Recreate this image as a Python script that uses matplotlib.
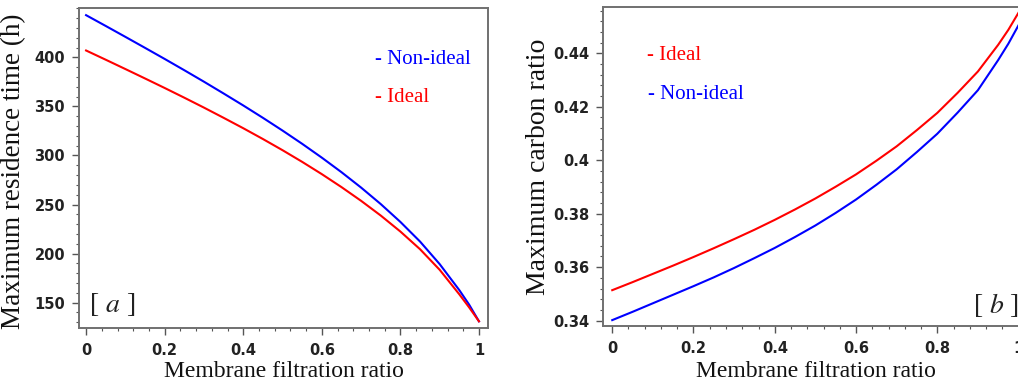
import matplotlib
matplotlib.use("Agg")
import matplotlib.pyplot as plt
from matplotlib.ticker import AutoMinorLocator

plt.rcParams['mathtext.fontset'] = 'stix'

# ---- data ----
ratio = [0.0, 0.05, 0.1, 0.15, 0.2, 0.25, 0.3, 0.35, 0.4, 0.45, 0.5, 0.55,
         0.6, 0.65, 0.7, 0.75, 0.8, 0.85, 0.9, 0.95, 0.975, 1.0]
residence_nonideal = [443, 432, 420.9, 409.7, 398.4, 386.9, 375.2, 363.2, 351, 338.4, 325.4,
                      311.9, 297.8, 283, 267.3, 250.5, 232.3, 212.3, 189.3, 162.8, 148, 131]
residence_ideal = [407, 397.6, 388.1, 378.5, 368.8, 358.9, 348.8, 338.4, 327.8, 316.8, 305.4,
                   293.5, 281, 267.8, 253.8, 238.8, 222.5, 204.5, 183.5, 158.5, 145.2, 131]

carbon_ideal = [0.3514, 0.3544, 0.3575, 0.3606, 0.3638, 0.3671, 0.3705, 0.3740, 0.3777,
                0.3816, 0.3857, 0.3901, 0.3947, 0.3998, 0.4052, 0.4113, 0.4177, 0.4252,
                0.4332, 0.4432, 0.4488, 0.4552]
carbon_nonideal = [0.3402, 0.3433, 0.3465, 0.3497, 0.3529, 0.3562, 0.3597, 0.3634, 0.3672,
                   0.3713, 0.3756, 0.3803, 0.3853, 0.3908, 0.3966, 0.4031, 0.4099, 0.4178,
                   0.4262, 0.4375, 0.4436, 0.4505]

xticks = [0, 0.2, 0.4, 0.6, 0.8, 1]
xticklabels = ['0', '0.2', '0.4', '0.6', '0.8', '1']
left_yticks = [150, 200, 250, 300, 350, 400]
right_yticks = [0.34, 0.36, 0.38, 0.40, 0.42, 0.44]
right_yticklabels = ['0.34', '0.36', '0.38', '0.4', '0.42', '0.44']

RED = '#ff0000'
BLUE = '#0000ff'
SERIF = 'Liberation Serif'

W, H = 1018, 385
fig = plt.figure(figsize=(W / 100, H / 100), dpi=100)

def frac_box(x0, x1, ytop, ybot):
    return [x0 / W, (H - ybot) / H, (x1 - x0) / W, (ybot - ytop) / H]

axL = fig.add_axes(frac_box(79, 488, 8, 328))
axR = fig.add_axes(frac_box(603.3, 1028.7, 7.3, 326))

def style(ax):
    for s in ax.spines.values():
        s.set_color('#707070')
        s.set_linewidth(1.4)
    ax.tick_params(axis='both', which='major', direction='out', length=5, width=1,
                   color='#555555', labelsize=10.5)
    ax.tick_params(axis='y', which='major', pad=5)
    ax.tick_params(axis='x', which='major', pad=6)
    ax.tick_params(axis='both', which='minor', direction='out', length=2.5, width=0.8,
                   color='#555555')
    for lab in ax.get_xticklabels() + ax.get_yticklabels():
        lab.set_fontweight('bold')
        lab.set_color('#222222')
    ax.xaxis.set_minor_locator(AutoMinorLocator(5))
    ax.yaxis.set_minor_locator(AutoMinorLocator(5))

# ---- left panel ----
axL.plot(ratio, residence_nonideal, color=BLUE, lw=1.5)
axL.plot(ratio, residence_ideal, color=RED, lw=1.5)
axL.set_xlim(-0.018, 1.023)
axL.set_ylim(124.2, 450.3)
axL.set_xticks(xticks)
axL.set_xticklabels(xticklabels)
axL.set_yticks(left_yticks)
style(axL)
axL.set_xlabel('Membrane filtration ratio', fontfamily=SERIF, fontsize=17,
               va='center', color='#111111')
axL.xaxis.set_label_coords(0.5, -0.1366)
axL.set_ylabel('Maximum residence time (h)', fontfamily=SERIF, fontsize=19.5,
               va='center', color='#111111')
axL.yaxis.set_label_coords(-0.159, 0.49)
axL.text(0.724, 0.8375, '- Non-ideal', color=BLUE, fontfamily=SERIF, fontsize=15,
         transform=axL.transAxes, va='center', ha='left')
axL.text(0.724, 0.719, '- Ideal', color=RED, fontfamily=SERIF, fontsize=15,
         transform=axL.transAxes, va='center', ha='left')
axL.text(0.024, 0.072, r'[ $\mathit{a}$ ]', color='#222222', fontfamily=SERIF, fontsize=20,
         transform=axL.transAxes, va='center', ha='left')

# ---- right panel ----
axR.plot(ratio, carbon_ideal, color=RED, lw=1.5)
axR.plot(ratio, carbon_nonideal, color=BLUE, lw=1.5)
axR.set_xlim(-0.022, 1.025)
axR.set_ylim(0.338, 0.4572)
axR.set_xticks(xticks)
axR.set_xticklabels(xticklabels)
axR.set_yticks(right_yticks)
axR.set_yticklabels(right_yticklabels)
style(axR)
axR.set_xlabel('Membrane filtration ratio', fontfamily=SERIF, fontsize=17,
               va='center', color='#111111')
axR.xaxis.set_label_coords(0.4996, -0.1434)
axR.set_ylabel('Maximum carbon ratio', fontfamily=SERIF, fontsize=20,
               va='center', color='#111111')
axR.yaxis.set_label_coords(-0.1535, 0.5)
axR.text(0.102, 0.850, '- Ideal', color=RED, fontfamily=SERIF, fontsize=15,
         transform=axR.transAxes, va='center', ha='left')
axR.text(0.105, 0.725, '- Non-ideal', color=BLUE, fontfamily=SERIF, fontsize=15,
         transform=axR.transAxes, va='center', ha='left')
axR.text(0.868, 0.066, r'[ $\mathit{b}$ ]', color='#222222', fontfamily=SERIF, fontsize=20,
         transform=axR.transAxes, va='center', ha='left')

fig.savefig('out.png', dpi=100)
